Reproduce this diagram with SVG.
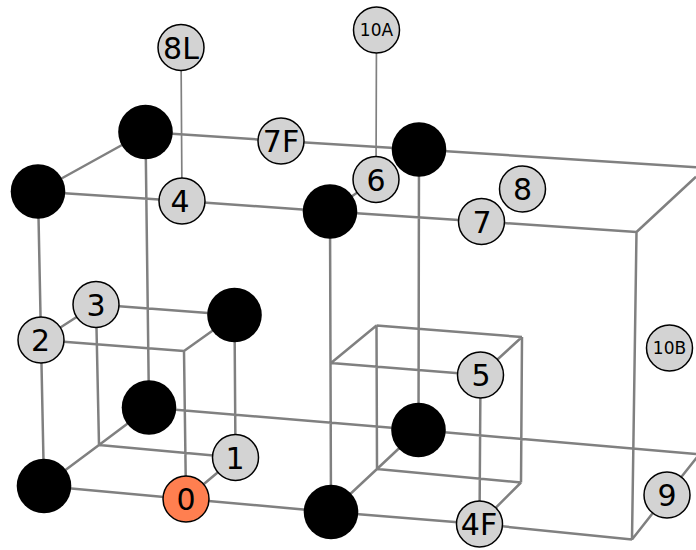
<svg xmlns="http://www.w3.org/2000/svg" width="696" height="550" viewBox="0 0 696 550">
<style>
.e{stroke:#808080;stroke-width:2.5;fill:none}
.t{stroke:#808080;stroke-width:1.7;fill:none}
.b{fill:#000}
.g{fill:#d3d3d3;stroke:#000;stroke-width:1.5}
.o{fill:#ff7f50;stroke:#000;stroke-width:1.5}
text{font-family:"DejaVu Sans",sans-serif;font-size:30px;text-anchor:middle;fill:#000}
text.s{font-size:17px}
</style>
<rect width="696" height="550" fill="#fff"/>
<g id="connectors">
<path class="e" d="M38 191.500L145.500 132M38 191.500L182 201M182 201L330 211.500M330 211.500L481.500 221.500M481.500 221.500L636.500 232M636.500 232L632 539.500M632 539.500L667 495M667 495L706 446M331 512L479.500 524M479.500 524L632 539.500M44 486L186 499M186 499L331 512M44 486L99 445M99 445L149 407.500M149 407.500L418.500 430M418.500 430L696 454M99 445L235.500 457.500M235.500 457.500L186 499M235.500 457.500L234.500 315M234.500 315L96 304.500M234.500 315L184 351M184 351L41 340M184 351L186 499M96 304.500L99 445M96 304.500L41 340M41 340L38 191.500M41 340L44 486M145.500 132L281 141M281 141L419 149.500M419 149.500L696 167.300M145.500 132L149 407.500M330 211.500L331 512M419 149.500L418.500 430M331 512L377 469M418.500 430L377 469M377 469L521 482.500M521 482.500L479.500 524M521 482.500L522 337M522 337L480.500 375M522 337L376.500 325.500M376.500 325.500L377 469M376.500 325.500L331 363M331 363L480.500 375M480.500 375L479.500 524M376 179.500L330 211.500M636.500 232L696 176.700"/>
<path class="t" d="M181 47.500L182 201M376.500 30L376 179.500"/>
</g>
<g id="n-a"><circle class="b" cx="145.500" cy="132" r="27.300"/></g>
<g id="n-b"><circle class="b" cx="38" cy="191.500" r="27.300"/></g>
<g id="n-c"><circle class="b" cx="330" cy="211.500" r="27.300"/></g>
<g id="n-d"><circle class="b" cx="419" cy="149.500" r="27.300"/></g>
<g id="n-e"><circle class="b" cx="234.500" cy="315" r="27.300"/></g>
<g id="n-f"><circle class="b" cx="149" cy="407.500" r="27.300"/></g>
<g id="n-g"><circle class="b" cx="44" cy="486" r="27.300"/></g>
<g id="n-h"><circle class="b" cx="331" cy="512" r="27.300"/></g>
<g id="n-i"><circle class="b" cx="418.500" cy="430" r="27.300"/></g>
<g id="n-0"><circle class="o" cx="186" cy="499" r="23"/><text x="186" y="510">0</text></g>
<g id="n-1"><circle class="g" cx="235.500" cy="457.500" r="23"/><text x="235" y="468.500">1</text></g>
<g id="n-2"><circle class="g" cx="41" cy="340" r="23"/><text x="40.500" y="351">2</text></g>
<g id="n-3"><circle class="g" cx="96" cy="304.500" r="23"/><text x="96" y="315.500">3</text></g>
<g id="n-4"><circle class="g" cx="182" cy="201" r="23"/><text x="180" y="212">4</text></g>
<g id="n-4F"><circle class="g" cx="479.500" cy="524" r="23"/><text x="479" y="535">4F</text></g>
<g id="n-5"><circle class="g" cx="480.500" cy="375" r="23"/><text x="481" y="386">5</text></g>
<g id="n-6"><circle class="g" cx="376" cy="179.500" r="23"/><text x="376" y="190.500">6</text></g>
<g id="n-7"><circle class="g" cx="481.500" cy="221.500" r="23"/><text x="482" y="232.500">7</text></g>
<g id="n-7F"><circle class="g" cx="281" cy="141" r="23"/><text x="281" y="152">7F</text></g>
<g id="n-8"><circle class="g" cx="522.500" cy="189" r="23"/><text x="522.500" y="200">8</text></g>
<g id="n-8L"><circle class="g" cx="181" cy="47.500" r="23"/><text x="181" y="58.500">8L</text></g>
<g id="n-9"><circle class="g" cx="667" cy="495" r="23"/><text x="667" y="506">9</text></g>
<g id="n-10A"><circle class="g" cx="376.500" cy="30" r="23"/><text class="s" x="376.500" y="36">10A</text></g>
<g id="n-10B"><circle class="g" cx="669.500" cy="348" r="23"/><text class="s" x="669.500" y="354">10B</text></g>
</svg>
